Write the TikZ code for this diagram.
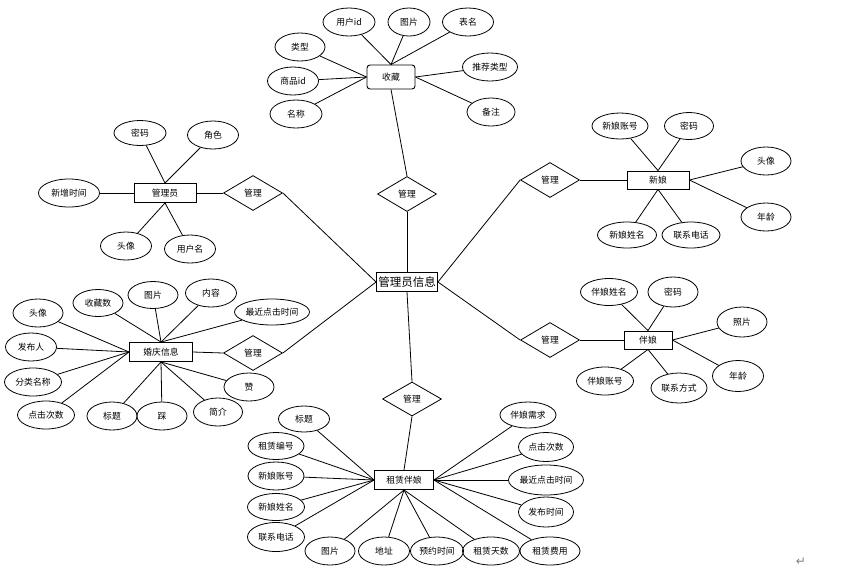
\documentclass[tikz,border=0pt]{standalone}
\usepackage{fontspec}
\setmainfont{Noto Sans CJK SC}
\newfontfamily\dejavu{DejaVu Sans}
\usetikzlibrary{shapes.geometric}
\begin{document}
\begin{tikzpicture}[x=1pt,y=-1pt,
  attr/.style={ellipse, draw, line width=0.8pt, inner sep=0pt, minimum height=28pt, font=\fontsize{8.8}{9}\selectfont},
  ent/.style={rectangle, draw, line width=0.9pt, inner sep=0pt, minimum height=19pt, font=\fontsize{8.8}{9}\selectfont},
  rel/.style={diamond, draw, line width=0.8pt, inner sep=0pt, aspect=1.7, minimum width=59pt, minimum height=35pt, font=\fontsize{8.8}{9}\selectfont},
  lk/.style={line width=0.8pt}]
\useasboundingbox (0,0) rectangle (853,574);
% centre
\node[ent, minimum width=61pt, font=\fontsize{11.5}{12}\selectfont] (gl) at (407,282) {管理员信息};
% 收藏
\node[ent, rounded corners=3pt, minimum width=48pt, minimum height=24pt, line width=0.9pt] (sc) at (391,77) {收藏};
\node[attr, minimum width=52pt] (sc1) at (349,22) {用户id};
\node[attr, minimum width=42pt] (sc2) at (409,22) {图片};
\node[attr, minimum width=51pt] (sc3) at (468,22) {表名};
\node[attr, minimum width=50pt] (sc4) at (300,47) {类型};
\node[attr, minimum width=51pt] (sc5) at (293,81) {商品id};
\node[attr, minimum width=52pt] (sc6) at (296,114) {名称};
\node[attr, minimum width=55pt] (sc7) at (490,67) {推荐类型};
\node[attr, minimum width=48pt] (sc8) at (491,112) {备注};
\foreach \n in {sc1,sc2,sc3} \draw[lk] (\n) -- (sc.north);
\foreach \n in {sc4,sc5,sc6} \draw[lk] (\n) -- (sc.west);
\foreach \n in {sc7,sc8} \draw[lk] (\n) -- (sc.east);
\node[rel] (r1) at (407,194) {管理};
\draw[lk] (sc.south) -- (r1.north);
\draw[lk] (r1.south) -- (gl.north);
% 管理员
\node[rel] (r2) at (253,193) {管理};
\node[ent, minimum width=62pt] (ad) at (165,193) {管理员};
\node[attr, minimum width=52pt, minimum height=25pt] (ad1) at (140,133) {密码};
\node[attr, minimum width=51pt] (ad2) at (213,135) {角色};
\node[attr, minimum width=61pt] (ad3) at (69,193) {新增时间};
\node[attr, minimum width=51pt] (ad4) at (126,246) {头像};
\node[attr, minimum width=51pt] (ad5) at (190,249) {用户名};
\foreach \n in {ad1,ad2} \draw[lk] (\n) -- (ad.north);
\foreach \n in {ad4,ad5} \draw[lk] (\n) -- (ad.south);
\draw[lk] (ad3) -- (ad.west);
\draw[lk] (ad.east) -- (r2.west);
\draw[lk] (r2.east) -- (gl.west);
% 新娘
\node[rel] (r3) at (550,180) {管理};
\node[ent, minimum width=62pt, minimum height=18pt] (xn) at (658,180) {新娘};
\node[attr, minimum width=56pt, minimum height=26pt] (xn1) at (620,126) {新娘账号};
\node[attr, minimum width=49pt, minimum height=27pt] (xn2) at (689,126) {密码};
\node[attr, minimum width=50pt] (xn3) at (766,161) {头像};
\node[attr, minimum width=50pt] (xn4) at (766,217) {年龄};
\node[attr, minimum width=59pt, minimum height=26pt] (xn5) at (627,235) {新娘姓名};
\node[attr, minimum width=58pt, minimum height=26pt] (xn6) at (691,235) {联系电话};
\foreach \n in {xn1,xn2} \draw[lk] (\n) -- (xn.north);
\foreach \n in {xn3,xn4} \draw[lk] (\n) -- (xn.east);
\foreach \n in {xn5,xn6} \draw[lk] (\n) -- (xn.south);
\draw[lk] (gl.east) -- (r3.west);
\draw[lk] (r3.east) -- (xn.west);
% 婚庆信息
\node[rel] (r4) at (253,353) {管理};
\node[ent, minimum width=63pt] (hq) at (161,352) {婚庆信息};
\node[attr, minimum width=50pt] (hq1) at (38,313) {头像};
\node[attr, minimum width=50pt, minimum height=27pt] (hq2) at (98,303) {收藏数};
\node[attr, minimum width=50pt, minimum height=27pt] (hq3) at (153,295) {图片};
\node[attr, minimum width=51pt] (hq4) at (211,293) {内容};
\node[attr, minimum width=75pt, minimum height=26pt] (hq5) at (272,312) {最近点击时间};
\node[attr, minimum width=51pt] (hq6) at (31,347) {发布人};
\node[attr, minimum width=57pt] (hq7) at (33,382) {分类名称};
\node[attr, minimum width=57pt] (hq8) at (46,415) {点击次数};
\node[attr, minimum width=50pt] (hq9) at (112,416) {标题};
\node[attr, minimum width=50pt] (hq10) at (162,416) {踩};
\node[attr, minimum width=49pt] (hq11) at (218,412) {简介};
\node[attr, minimum width=50pt] (hq12) at (249,387) {赞};
\foreach \n in {hq1,hq6,hq7,hq8} \draw[lk] (\n) -- (hq.west);
\foreach \n in {hq2,hq3,hq4,hq5} \draw[lk] (\n) -- (hq.north);
\foreach \n in {hq9,hq10,hq11,hq12} \draw[lk] (\n) -- (hq.south);
\draw[lk] (hq.east) -- (r4.west);
\draw[lk] (r4.east) -- (gl.west);
% 伴娘
\node[rel] (r5) at (550,340) {管理};
\node[ent, minimum width=48pt, minimum height=18pt] (bn) at (648,340) {伴娘};
\node[attr, minimum width=57pt, minimum height=27pt] (bn1) at (609,292) {伴娘姓名};
\node[attr, minimum width=50pt, minimum height=30pt] (bn2) at (673,292) {密码};
\node[attr, minimum width=50pt, minimum height=30pt] (bn3) at (742,322) {照片};
\node[attr, minimum width=51pt, minimum height=31pt] (bn4) at (738,376) {年龄};
\node[attr, minimum width=57pt] (bn5) at (605,381) {伴娘账号};
\node[attr, minimum width=56pt, minimum height=30pt] (bn6) at (679,388) {联系方式};
\foreach \n in {bn1,bn2} \draw[lk] (\n) -- (bn.north);
\foreach \n in {bn3,bn4} \draw[lk] (\n) -- (bn.east);
\foreach \n in {bn5,bn6} \draw[lk] (\n) -- (bn.south);
\draw[lk] (gl.east) -- (r5.west);
\draw[lk] (r5.east) -- (bn.west);
% 租赁伴娘
\node[rel, minimum height=34pt] (r6) at (412,399) {管理};
\node[ent, minimum width=59pt] (zl) at (404,480) {租赁伴娘};
\node[attr, minimum width=51pt, minimum height=26pt] (zl1) at (304,419) {标题};
\node[attr, minimum width=56pt, minimum height=27pt] (zl2) at (276,446) {租赁编号};
\node[attr, minimum width=56pt] (zl3) at (276,476) {新娘账号};
\node[attr, minimum width=57pt, minimum height=27pt] (zl4) at (276,507) {新娘姓名};
\node[attr, minimum width=57pt, minimum height=29pt] (zl5) at (276,537) {联系电话};
\node[attr, minimum width=50pt] (zl6) at (330,551) {图片};
\node[attr, minimum width=51pt] (zl7) at (384,551) {地址};
\node[attr, minimum width=53pt] (zl8) at (437,551) {预约时间};
\node[attr, minimum width=57pt] (zl9) at (491,551) {租赁天数};
\node[attr, minimum width=60pt] (zl10) at (550,551) {租赁费用};
\node[attr, minimum width=56pt, minimum height=26pt] (zl11) at (528,415) {伴娘需求};
\node[attr, minimum width=55pt, minimum height=29pt] (zl12) at (546,447) {点击次数};
\node[attr, minimum width=75pt, minimum height=30pt] (zl13) at (546,480) {最近点击时间};
\node[attr, minimum width=55pt, minimum height=30pt] (zl14) at (546,512) {发布时间};
\foreach \n in {zl1,zl2,zl3,zl4,zl5} \draw[lk] (\n) -- (zl.west);
\foreach \n in {zl6,zl7,zl8,zl9} \draw[lk] (\n) -- (zl.south);
\foreach \n in {zl10,zl11,zl12,zl13,zl14} \draw[lk] (\n) -- (zl.east);
\draw[lk] (gl.south) -- (r6.north);
\draw[lk] (r6.south) -- (zl.north);
% paragraph mark
\node[font=\dejavu\fontsize{12}{12}\selectfont, text=gray] (ret) at (801,562) {↵};
\end{tikzpicture}
\end{document}
